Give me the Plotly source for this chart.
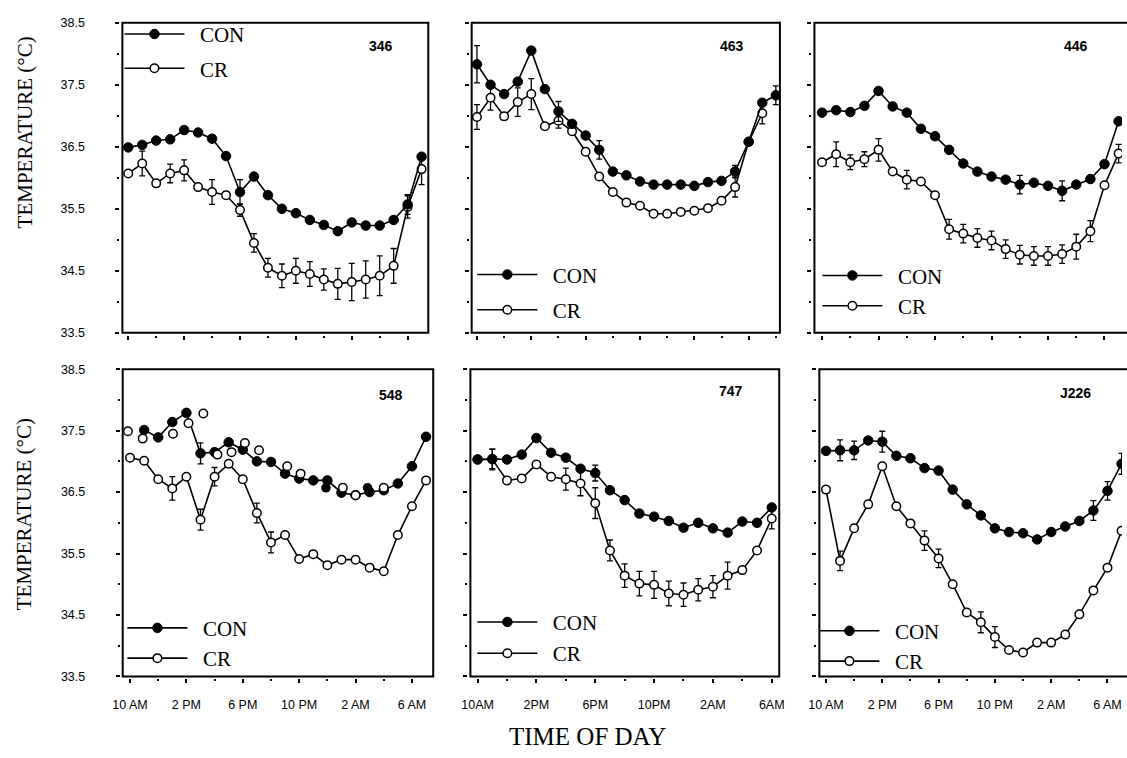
import plotly.graph_objects as go

W, H = 1127, 758

# ---------------- data ----------------
HOURS_10_31 = [10, 11, 12, 13, 14, 15, 16, 17, 18, 19, 20, 21, 22, 23, 24, 25, 26, 27, 28, 29, 30, 31]
HOURS_10_32 = [10, 11, 12, 13, 14, 15, 16, 17, 18, 19, 20, 21, 22, 23, 24, 25, 26, 27, 28, 29, 30, 31, 32]
HOURS_10_30 = [10, 11, 12, 13, 14, 15, 16, 17, 18, 19, 20, 21, 22, 23, 24, 25, 26, 27, 28, 29, 30]
HOURS_11_31 = [11, 12, 13, 14, 15, 16, 17, 18, 19, 20, 21, 22, 23, 24, 25, 26, 27, 28, 29, 30, 31]

TICK_HOURS = [10, 14, 18, 22, 26, 30]
TICK_TEXT = ["10 AM", "2 PM", "6 PM", "10 PM", "2 AM", "6 AM"]
TICK_TEXT_747 = ["10AM", "2PM", "6PM", "10PM", "2AM", "6AM"]

PANEL_IDS = ["346", "463", "446", "548", "747", "J226"]
SERIES_NAMES = ["CON", "CR"]

# 346
CON_346 = [36.49, 36.53, 36.60, 36.62, 36.77, 36.73, 36.63, 36.35, 35.77, 36.02, 35.72,
           35.50, 35.43, 35.32, 35.24, 35.14, 35.28, 35.23, 35.23, 35.32, 35.57, 36.34]
CON_346_ERR = [0, 0, 0, 0, 0, 0, 0, 0, 0.20, 0, 0, 0, 0, 0, 0, 0, 0, 0, 0, 0, 0.16, 0]
CR_346 = [36.07, 36.23, 35.91, 36.07, 36.12, 35.85, 35.77, 35.72, 35.48, 34.95, 34.55,
          34.42, 34.50, 34.45, 34.36, 34.29, 34.32, 34.36, 34.42, 34.58, 35.53, 36.14]
CR_346_ERR = [0, 0.20, 0, 0.15, 0.17, 0, 0.20, 0, 0.10, 0.15, 0.15,
              0.19, 0.20, 0.20, 0.17, 0.25, 0.30, 0.30, 0.32, 0.28, 0.18, 0.25]

# 463
CON_463 = [37.83, 37.50, 37.35, 37.55, 38.05, 37.43, 37.07, 36.87, 36.68, 36.45, 36.10, 36.04,
           35.94, 35.89, 35.89, 35.89, 35.87, 35.93, 35.95, 36.10, 36.58, 37.21, 37.33]
CON_463_ERR = [0.30, 0, 0, 0, 0, 0, 0.16, 0, 0, 0.15, 0, 0, 0, 0, 0, 0, 0, 0, 0, 0.10, 0, 0, 0.15]
CR_463 = [36.98, 37.29, 36.99, 37.22, 37.35, 36.83, 36.92, 36.75, 36.42, 36.02, 35.77,
          35.60, 35.55, 35.42, 35.42, 35.45, 35.47, 35.51, 35.63, 35.85, 36.58, 37.04]
CR_463_ERR = [0.20, 0.20, 0, 0.23, 0.25, 0, 0.12, 0, 0, 0, 0, 0, 0, 0, 0, 0, 0, 0, 0, 0.16, 0, 0.17]

# 446
CON_446 = [37.05, 37.09, 37.06, 37.16, 37.40, 37.15, 37.05, 36.79, 36.67, 36.45, 36.23,
           36.10, 36.02, 35.97, 35.89, 35.92, 35.87, 35.79, 35.89, 35.98, 36.22, 36.91]
CON_446_ERR = [0, 0, 0, 0, 0, 0, 0, 0, 0, 0, 0, 0, 0, 0, 0.15, 0, 0, 0.16, 0, 0, 0, 0]
CR_446 = [36.25, 36.38, 36.25, 36.30, 36.45, 36.10, 35.97, 35.94, 35.72, 35.17, 35.10,
          35.03, 34.99, 34.85, 34.76, 34.74, 34.74, 34.77, 34.89, 35.14, 35.88, 36.39]
CR_446_ERR = [0, 0.20, 0.12, 0.12, 0.18, 0, 0.15, 0, 0, 0.16, 0.15,
              0.15, 0.15, 0.15, 0.15, 0.15, 0.15, 0.15, 0.20, 0.17, 0, 0.15]

# 548
CON_548 = [37.51, 37.39, 37.64, 37.79, 37.13, 37.15, 37.31, 37.19, 37.00, 36.99, 36.80,
           36.72, 36.69, 36.69, 36.49, 36.45, 36.50, 36.53, 36.64, 36.92, 37.40]
CON_548_ERR = [0, 0, 0, 0, 0.17, 0, 0, 0, 0, 0, 0, 0, 0, 0, 0, 0, 0, 0, 0, 0, 0]
CR_548 = [37.06, 37.01, 36.71, 36.56, 36.75, 36.05, 36.75, 36.96, 36.71, 36.16, 35.68,
          35.80, 35.41, 35.49, 35.31, 35.40, 35.40, 35.27, 35.21, 35.80, 36.27, 36.69]
CR_548_ERR = [0, 0, 0, 0.19, 0, 0.17, 0.15, 0, 0, 0.16, 0.17, 0, 0, 0, 0, 0, 0, 0, 0, 0, 0, 0]
EXTRA_548_OPEN_HOURS = [9.85, 10.9, 13.05, 14.15, 15.2, 16.2, 17.2, 18.15, 19.15, 21.15, 22.1, 25.1, 26.0, 28.0]
EXTRA_548_OPEN = [37.49, 37.37, 37.45, 37.62, 37.78, 37.11, 37.15, 37.30, 37.18, 36.92, 36.80, 36.57, 36.45, 36.57]
EXTRA_548_FILLED_HOURS = [23.9, 26.85]
EXTRA_548_FILLED = [36.57, 36.57]

# 747
CON_747 = [37.03, 37.04, 37.03, 37.11, 37.38, 37.14, 37.06, 36.88, 36.81, 36.53, 36.37,
           36.15, 36.10, 36.03, 35.92, 36.00, 35.91, 35.84, 36.02, 36.00, 36.25]
CON_747_ERR = [0, 0.16, 0, 0, 0, 0, 0, 0, 0.13, 0, 0, 0, 0, 0, 0, 0, 0, 0, 0, 0, 0]
CR_747 = [37.03, 37.03, 36.69, 36.72, 36.95, 36.75, 36.71, 36.64, 36.32, 35.55, 35.14,
          35.01, 34.99, 34.85, 34.83, 34.91, 34.96, 35.14, 35.23, 35.55, 36.07]
CR_747_ERR = [0, 0.17, 0, 0, 0, 0, 0.18, 0.20, 0.25, 0.17, 0.19,
              0.20, 0.22, 0.20, 0.19, 0.18, 0.18, 0.22, 0, 0, 0.17]

# J226
CON_J226 = [37.17, 37.18, 37.18, 37.34, 37.32, 37.09, 37.05, 36.89, 36.85, 36.54, 36.30,
            36.12, 35.91, 35.85, 35.83, 35.73, 35.85, 35.94, 36.03, 36.20, 36.52, 36.96]
CON_J226_ERR = [0, 0.17, 0.15, 0, 0.17, 0, 0, 0, 0, 0, 0, 0, 0, 0, 0, 0, 0, 0, 0, 0.16, 0.15, 0.17]
CR_J226 = [36.54, 35.38, 35.91, 36.30, 36.92, 36.27, 35.99, 35.71, 35.42, 35.00, 34.54,
           34.38, 34.14, 33.93, 33.89, 34.05, 34.05, 34.18, 34.51, 34.90, 35.27, 35.87]
CR_J226_ERR = [0, 0.16, 0, 0, 0, 0, 0, 0.16, 0.15, 0, 0, 0.17, 0.17, 0, 0, 0, 0, 0, 0, 0, 0, 0]

Y_RANGE = [33.5, 38.5]

# ---------------- layout geometry (pixels) ----------------
def fx(px):
    return px / W


def fy(py):
    return 1 - py / H


# leg = (line start x, legend box top y, gap between the two rows)
panels = [
    dict(id=PANEL_IDS[0], con_x=HOURS_10_31, con=CON_346, con_err=CON_346_ERR,
         cr_x=HOURS_10_31, cr=CR_346, cr_err=CR_346_ERR, ticktext=TICK_TEXT, labels=False,
         box=(113, 423.3, 16, 332), xr=[9.58, 31.48], clip=False,
         tag=(377, 45), leg=(124, 7, 35)),
    dict(id=PANEL_IDS[1], con_x=HOURS_10_32, con=CON_463, con_err=CON_463_ERR,
         cr_x=HOURS_10_31, cr=CR_463, cr_err=CR_463_ERR, ticktext=TICK_TEXT, labels=False,
         box=(467.3, 780, 16, 332), xr=[9.61, 32.3], clip=False,
         tag=(733, 45), leg=(482, 252, 36)),
    dict(id=PANEL_IDS[2], con_x=HOURS_10_31, con=CON_446, con_err=CON_446_ERR,
         cr_x=HOURS_10_31, cr=CR_446, cr_err=CR_446_ERR, ticktext=TICK_TEXT, labels=False,
         box=(815, W, 16, 332), xr=[9.46, 31.24], clip=True,
         tag=(1082, 45), leg=(832, 253, 30)),
    dict(id=PANEL_IDS[3], con_x=HOURS_11_31, con=CON_548, con_err=CON_548_ERR,
         cr_x=HOURS_10_31, cr=CR_548, cr_err=CR_548_ERR, ticktext=TICK_TEXT, labels=True,
         box=(113.3, 428.3, 369, 682), xr=[9.48, 31.51], clip=False,
         tag=(387, 400), leg=(127, 612, 29)),
    dict(id=PANEL_IDS[4], con_x=HOURS_10_30, con=CON_747, con_err=CON_747_ERR,
         cr_x=HOURS_10_30, cr=CR_747, cr_err=CR_747_ERR, ticktext=TICK_TEXT_747, labels=True,
         box=(466, 779.3, 369, 682), xr=[9.51, 30.51], clip=False,
         tag=(732, 396), leg=(482, 606, 32)),
    dict(id=PANEL_IDS[5], con_x=HOURS_10_31, con=CON_J226, con_err=CON_J226_ERR,
         cr_x=HOURS_10_31, cr=CR_J226, cr_err=CR_J226_ERR, ticktext=TICK_TEXT, labels=True,
         box=(820, W, 369, 682), xr=[9.53, 31.03], clip=True,
         tag=(1082, 398), leg=(829, 615, 30)),
]

SANS = "Liberation Sans, Arial, sans-serif"
SERIF = "Liberation Serif, Times New Roman, serif"
PAD = "\u00a0\u00a0"

fig = go.Figure()
layout = dict(
    width=W, height=H, margin=dict(l=0, r=0, t=0, b=0),
    paper_bgcolor="white", plot_bgcolor="white",
    showlegend=True, shapes=[], annotations=[],
)

for i, p in enumerate(panels, start=1):
    sfx = "" if i == 1 else str(i)
    xa, ya = "x" + sfx, "y" + sfx
    leg = "legend" + sfx
    err_style = dict(type="data", visible=True, color="black", thickness=1.3, width=3)

    fig.add_trace(go.Scatter(
        x=p["cr_x"], y=p["cr"], mode="lines+markers", name=PAD + SERIES_NAMES[1],
        error_y=dict(array=p["cr_err"], **err_style),
        line=dict(color="black", width=1.6),
        marker=dict(symbol="circle", size=8.5, color="white", line=dict(color="black", width=1.5)),
        xaxis=xa, yaxis=ya, legend=leg, legendgroup="cr" + sfx, legendrank=2,
    ))
    fig.add_trace(go.Scatter(
        x=p["con_x"], y=p["con"], mode="lines+markers", name=PAD + SERIES_NAMES[0],
        error_y=dict(array=p["con_err"], **err_style),
        line=dict(color="black", width=1.6),
        marker=dict(symbol="circle", size=9.5, color="black", line=dict(color="black", width=1)),
        xaxis=xa, yaxis=ya, legend=leg, legendgroup="con" + sfx, legendrank=1,
    ))
    if p["id"] == "548":
        fig.add_trace(go.Scatter(
            x=EXTRA_548_OPEN_HOURS, y=EXTRA_548_OPEN, mode="markers", showlegend=False,
            marker=dict(symbol="circle", size=8.5, color="white", line=dict(color="black", width=1.5)),
            xaxis=xa, yaxis=ya,
        ))
        fig.add_trace(go.Scatter(
            x=EXTRA_548_FILLED_HOURS, y=EXTRA_548_FILLED, mode="markers", showlegend=False,
            marker=dict(symbol="circle", size=9.5, color="black"),
            xaxis=xa, yaxis=ya,
        ))

    x0, x1, y0, y1 = p["box"]
    layout["xaxis" + sfx] = dict(
        domain=[fx(x0), fx(x1)], range=p["xr"], anchor="free", position=fy(y1 + 2),
        showline=False, showgrid=False, zeroline=False,
        tickmode="array", tickvals=TICK_HOURS, ticktext=p["ticktext"],
        ticks="outside", ticklen=4, tickwidth=2, tickcolor="black",
        showticklabels=p["labels"], ticklabelstandoff=11,
        tickfont=dict(family=SANS, size=12.5, color="black"),
        minor=dict(tickmode="linear", tick0=10, dtick=2, ticks="outside",
                   ticklen=2, tickwidth=2, tickcolor="black", showgrid=False),
    )
    layout["yaxis" + sfx] = dict(
        domain=[fy(y1), fy(y0)], range=Y_RANGE, anchor="free", position=fx(x0 - 3),
        showline=False, showgrid=False, zeroline=False,
        tickmode="linear", tick0=33.5, dtick=1, tickformat=".1f",
        ticks="outside", ticklen=4, tickwidth=2, tickcolor="black",
        showticklabels=(i in (1, 4)), ticklabelstandoff=28,
        tickfont=dict(family=SANS, size=12.5, color="black"),
        minor=dict(tickmode="linear", tick0=34, dtick=1, ticks="outside",
                   ticklen=2, tickwidth=2, tickcolor="black", showgrid=False),
    )
    layout["shapes"].append(dict(
        type="rect", xref=xa + " domain", yref=ya + " domain",
        x0=0, x1=(1.2 if p["clip"] else 1), y0=0, y1=1,
        line=dict(color="black", width=2), fillcolor="rgba(0,0,0,0)", layer="above",
    ))
    tx, ty = p["tag"]
    layout["annotations"].append(dict(
        text="<b>" + p["id"] + "</b>", xref="paper", yref="paper", x=fx(tx - 2), y=fy(ty - 5),
        xanchor="center", yanchor="middle", showarrow=False,
        font=dict(family=SANS, size=14, color="black"),
    ))
    lx, ltop, gap = p["leg"]
    layout[leg] = dict(
        x=fx(lx - 14), y=fy(ltop), xanchor="left", yanchor="top",
        bgcolor="rgba(0,0,0,0)", borderwidth=0, itemwidth=60,
        tracegroupgap=max(gap - 31, 0),
        font=dict(family=SERIF, size=21, color="black"),
    )

for yc in (128, 517):
    layout["annotations"].append(dict(
        text="TEMPERATURE (°C)", xref="paper", yref="paper", x=fx(14), y=fy(yc),
        xanchor="center", yanchor="middle", textangle=-90, showarrow=False,
        font=dict(family=SERIF, size=21, color="black"),
    ))
layout["annotations"].append(dict(
    text="TIME OF DAY", xref="paper", yref="paper", x=fx(585), y=fy(757.5),
    xanchor="center", yanchor="bottom", showarrow=False, borderpad=0,
    font=dict(family=SERIF, size=25, color="black"),
))

fig.update_layout(**layout)
fig.write_html("out.html", config={"displayModeBar": False},
               post_script="document.body.style.margin='0';")
